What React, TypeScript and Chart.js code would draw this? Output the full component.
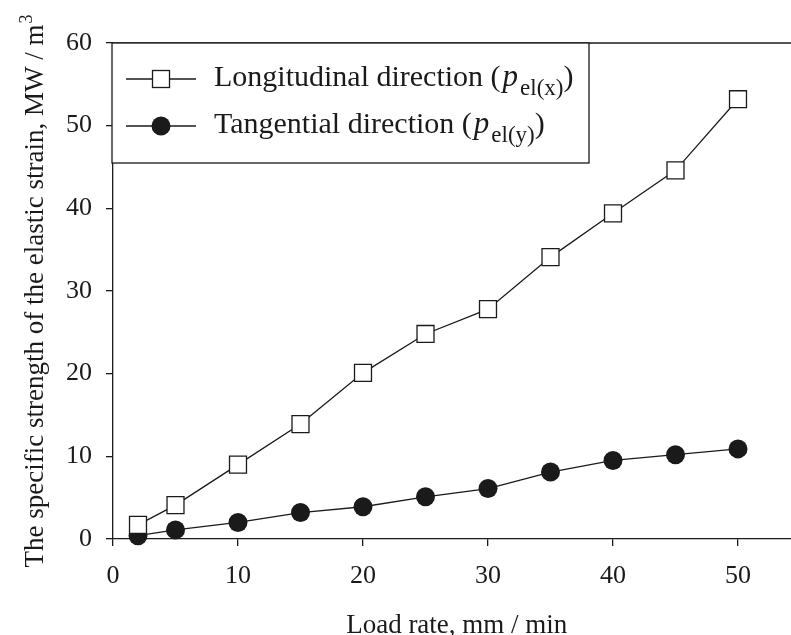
import React, { useEffect, useRef } from "react";
import { Chart, registerables } from "chart.js";

Chart.register(...registerables);

const loadRates = [2, 5, 10, 15, 20, 25, 30, 35, 40, 45, 50];
const longitudinal = [1.7, 4.1, 9.0, 13.9, 20.1, 24.8, 27.8, 34.1, 39.4, 44.6, 53.2];
const tangential = [0.4, 1.1, 2.0, 3.2, 3.9, 5.1, 6.1, 8.1, 9.5, 10.2, 10.9];
const xTickValues = [0, 10, 20, 30, 40, 50];
const yTickValues = [0, 10, 20, 30, 40, 50, 60];

const seriesNames = ["Longitudinal direction (", "Tangential direction ("];
const seriesSubs = ["el(x)", "el(y)"];
const xTitle = "Load rate, mm / min";
const yTitle = "The specific strength of the elastic strain, MW / m";
const yTitleSup = "3";

const FONT = '"Liberation Serif", "Times New Roman", serif';
const INK = "#1a1a1a";

const decorPlugin = {
  id: "decor",
  afterDraw(chart: any) {
    const { ctx, chartArea: a, scales } = chart;
    ctx.save();
    ctx.strokeStyle = INK;
    ctx.lineWidth = 1.3;
    ctx.beginPath();
    ctx.moveTo(a.left, a.top);
    ctx.lineTo(a.right, a.top);
    ctx.stroke();

    // legend box
    const bx = a.left - 1;
    const by = a.top;
    const bw = 477;
    const bh = 120;
    ctx.fillStyle = "#fff";
    ctx.fillRect(bx, by, bw, bh);
    ctx.strokeRect(bx, by, bw, bh);

    const rows = [by + 36, by + 83];
    const lx0 = bx + 14;
    const lx1 = bx + 84;
    const mx = (lx0 + lx1) / 2;
    rows.forEach((ry, i) => {
      ctx.strokeStyle = INK;
      ctx.lineWidth = 1.3;
      ctx.beginPath();
      ctx.moveTo(lx0, ry);
      ctx.lineTo(lx1, ry);
      ctx.stroke();
      if (i === 0) {
        ctx.fillStyle = "#fff";
        ctx.fillRect(mx - 8.5, ry - 8.5, 17, 17);
        ctx.strokeRect(mx - 8.5, ry - 8.5, 17, 17);
      } else {
        ctx.fillStyle = INK;
        ctx.beginPath();
        ctx.arc(mx, ry, 9.5, 0, Math.PI * 2);
        ctx.fill();
      }
      const base = ry + 7;
      let tx = bx + 102;
      ctx.fillStyle = INK;
      ctx.textBaseline = "alphabetic";
      ctx.textAlign = "left";
      ctx.font = `30px ${FONT}`;
      ctx.fillText(seriesNames[i], tx, base);
      tx += ctx.measureText(seriesNames[i]).width + 2;
      ctx.font = `italic 31px ${FONT}`;
      ctx.fillText("p", tx, base);
      tx += ctx.measureText("p").width + 2;
      ctx.font = `23px ${FONT}`;
      ctx.fillText(seriesSubs[i], tx, base + 9);
      tx += ctx.measureText(seriesSubs[i]).width;
      ctx.font = `30px ${FONT}`;
      ctx.fillText(")", tx, base);
    });

    // x title
    const xs = scales.x;
    const xc = xs.getPixelForValue(27.5);
    ctx.font = `27px ${FONT}`;
    ctx.textAlign = "center";
    ctx.fillStyle = INK;
    ctx.fillText(xTitle, xc, 633);

    // y title (rotated)
    const ys = scales.y;
    const yc = (ys.getPixelForValue(0) + ys.getPixelForValue(60)) / 2;
    ctx.save();
    ctx.translate(43, yc);
    ctx.rotate(-Math.PI / 2);
    ctx.font = `27px ${FONT}`;
    const w1 = ctx.measureText(yTitle).width;
    ctx.font = `18px ${FONT}`;
    const w2 = ctx.measureText(yTitleSup).width;
    const start = -(w1 + w2 + 1) / 2;
    ctx.textAlign = "left";
    ctx.font = `27px ${FONT}`;
    ctx.fillText(yTitle, start, 0);
    ctx.font = `18px ${FONT}`;
    ctx.fillText(yTitleSup, start + w1 + 1, -11);
    ctx.restore();

    ctx.restore();
  },
};

export default function App() {
  const ref = useRef<HTMLCanvasElement | null>(null);
  useEffect(() => {
    if (!ref.current) return;
    const chart = new Chart(ref.current, {
      type: "line",
      data: {
        datasets: [
          {
            label: "Longitudinal",
            data: loadRates.map((x, i) => ({ x, y: longitudinal[i] })),
            borderColor: INK,
            borderWidth: 1.3,
            backgroundColor: "#fff",
            pointStyle: "rect",
            pointRadius: 12,
            pointBorderWidth: 1.3,
            pointBorderColor: INK,
            pointBackgroundColor: "#fff",
            tension: 0,
            clip: false,
          },
          {
            label: "Tangential",
            data: loadRates.map((x, i) => ({ x, y: tangential[i] })),
            borderColor: INK,
            borderWidth: 1.3,
            backgroundColor: INK,
            pointStyle: "circle",
            pointRadius: 9.5,
            pointBorderWidth: 0,
            pointBackgroundColor: INK,
            tension: 0,
            clip: false,
          },
        ],
      },
      options: {
        responsive: false,
        animation: false,
        devicePixelRatio: 1,
        layout: { autoPadding: false, padding: { top: 43, right: 0, left: 0, bottom: 0 } },
        plugins: {
          legend: { display: false },
          tooltip: { enabled: false },
          title: { display: false },
        },
        scales: {
          x: {
            type: "linear",
            min: 0,
            max: 54.24,
            afterBuildTicks: (axis: any) => {
              axis.ticks = xTickValues.map((v) => ({ value: v }));
            },
            afterFit: (scale: any) => {
              scale.height = 96;
              scale.paddingLeft = 0;
              scale.paddingRight = 0;
            },
            ticks: {
              color: INK,
              font: { family: FONT, size: 26 },
              padding: 15,
              maxRotation: 0,
            },
            grid: {
              drawOnChartArea: false,
              drawTicks: true,
              tickLength: 7,
              color: INK,
              lineWidth: 1.3,
            },
            border: { display: true, color: INK, width: 1.3 },
          },
          y: {
            type: "linear",
            min: 0,
            max: 60,
            afterBuildTicks: (axis: any) => {
              axis.ticks = yTickValues.map((v) => ({ value: v }));
            },
            afterFit: (scale: any) => {
              scale.width = 113;
              scale.paddingTop = 0;
              scale.paddingBottom = 0;
            },
            ticks: {
              color: INK,
              font: { family: FONT, size: 26 },
              padding: 14,
            },
            grid: {
              drawOnChartArea: false,
              drawTicks: true,
              tickLength: 7,
              color: INK,
              lineWidth: 1.3,
            },
            border: { display: true, color: INK, width: 1.3 },
          },
        },
      },
      plugins: [decorPlugin],
    });
    return () => chart.destroy();
  }, []);
  return (
    <div style={{ position: "absolute", left: 0, top: 0, width: 791, height: 635, background: "#fff" }}>
      <canvas ref={ref} width={791} height={635} style={{ display: "block" }} />
    </div>
  );
}
